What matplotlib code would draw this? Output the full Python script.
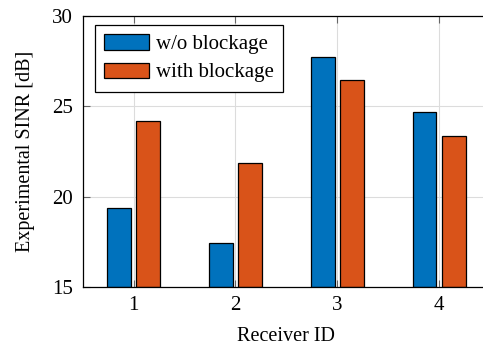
import numpy as np
import matplotlib
matplotlib.use('Agg')
from matplotlib import pyplot as plt

plt.rcParams['font.family'] = ['Liberation Serif', 'DejaVu Serif']
plt.rcParams['mathtext.fontset'] = 'stix'

receivers = [1, 2, 3, 4]
sinr_no_block = [19.38, 17.44, 27.73, 24.70]
sinr_block = [24.20, 21.90, 26.46, 23.37]
labels = ['w/o blockage', 'with blockage']

blue = (0 / 255, 114 / 255, 189 / 255)
orange = (217 / 255, 83 / 255, 25 / 255)

fig = plt.figure(figsize=(4.83, 3.47), dpi=100)
ax = fig.add_axes([0.171, 0.1715, 0.844, 0.7825])

x = np.array(receivers, dtype=float)
w = 0.23
off = 0.143
ax.bar(x - off, np.array(sinr_no_block) - 15, w, bottom=15, color=blue,
       edgecolor='black', linewidth=0.9, label=labels[0], zorder=3)
ax.bar(x + off, np.array(sinr_block) - 15, w, bottom=15, color=orange,
       edgecolor='black', linewidth=0.9, label=labels[1], zorder=3)

ax.set_xlim(0.5, 4.5)
ax.set_ylim(15, 30)
ax.set_xticks(receivers)
ax.set_yticks([15, 20, 25, 30])
ax.grid(True, color='#dcdcdc', linewidth=0.8, zorder=0)
ax.tick_params(direction='in', length=5, width=0.8, color='#666666',
               labelsize=15, top=True, right=True)
ax.tick_params(axis='x', pad=6)
ax.tick_params(axis='y', pad=7)
for s in ax.spines.values():
    s.set_linewidth(0.9)
    s.set_zorder(4)

ax.set_xlabel('Receiver ID', fontsize=14.5, labelpad=8.5)
ax.set_ylabel('Experimental SINR [dB]', fontsize=14.5, labelpad=12)

leg = ax.legend(loc='upper left', bbox_to_anchor=(0.030, 0.967),
                borderaxespad=0, fontsize=15, handlelength=2.16,
                handleheight=0.75, fancybox=False, framealpha=1,
                edgecolor='black', borderpad=0.45, labelspacing=0.4,
                handletextpad=0.32)
leg.get_frame().set_linewidth(0.9)

plt.savefig('out.png', dpi=100)
